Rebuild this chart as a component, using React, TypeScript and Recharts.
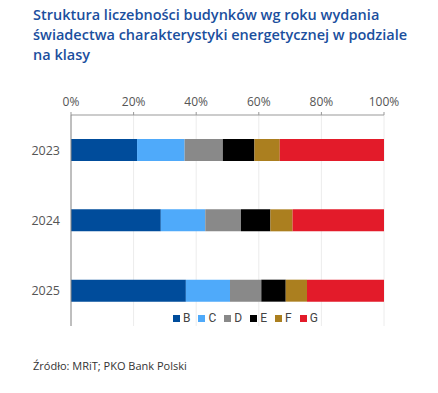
import React from "react";
import { BarChart, Bar, XAxis, YAxis, CartesianGrid } from "recharts";

const years = ["2023", "2024", "2025"];
const classB = [21.1, 28.7, 36.7];
const classC = [15.2, 14.2, 14.1];
const classD = [12.2, 11.4, 10.0];
const classE = [10.1, 9.4, 7.8];
const classF = [8.1, 7.1, 6.8];
const classG = [33.3, 29.2, 24.6];
const xTicks = [0, 20, 40, 60, 80, 100];

const seriesKeys = ["B", "C", "D", "E", "F", "G"];
const seriesColors: Record<string, string> = {
  B: "#004c9b",
  C: "#4faafa",
  D: "#898989",
  E: "#000000",
  F: "#ab7f1f",
  G: "#e31b2a",
};

const data = years.map((y, i) => ({
  year: y,
  B: classB[i],
  C: classC[i],
  D: classD[i],
  E: classE[i],
  F: classF[i],
  G: classG[i],
}));

const font = "'Open Sans', 'Noto Sans', sans-serif";

const LegendContent = () => (
  <div style={{ display: "flex", fontFamily: "Roboto, sans-serif", fontSize: 12, color: "#444" }}>
    {seriesKeys.map((k) => (
      <div key={k} style={{ display: "flex", alignItems: "center", marginRight: 8 }}>
        <span style={{ width: 7, height: 7, background: seriesColors[k], display: "inline-block", marginRight: 3 }} />
        <span>{k}</span>
      </div>
    ))}
  </div>
);

export default function App() {
  return (
    <div style={{ position: "absolute", left: 0, top: 0, width: 438, height: 393, background: "#fff" }}>
      <div
        style={{
          position: "absolute",
          left: 33,
          top: 5,
          width: 400,
          fontFamily: font,
          fontSize: 14.5,
          fontWeight: 600,
          lineHeight: "20px",
          color: "#1b4f9e",
        }}
      >
        Struktura liczebności budynków wg roku wydania
        <br />
        świadectwa charakterystyki energetycznej w podziale
        <br />
        na klasy
      </div>
      <div style={{ position: "absolute", left: 0, top: 0 }}>
        <BarChart
          width={438}
          height={393}
          data={data}
          layout="vertical"
          margin={{ top: 85, right: 54, bottom: 67, left: 0 }}
          barSize={22}
        >
          <CartesianGrid horizontal={false} vertical={true} stroke="#ececec" />
          <XAxis
            type="number"
            orientation="top"
            domain={[0, 100]}
            ticks={xTicks}
            tickFormatter={(v: number) => `${v}%`}
            height={30}
            tickSize={3}
            tickMargin={6}
            axisLine={{ stroke: "#999" }}
            tickLine={{ stroke: "#999" }}
            tick={{ fill: "#555", fontSize: 12, fontFamily: font }}
            interval={0}
          />
          <YAxis
            type="category"
            dataKey="year"
            width={71}
            tickSize={3}
            tickMargin={8}
            axisLine={{ stroke: "#888" }}
            tickLine={false}
            tick={{ fill: "#555", fontSize: 12.5, fontFamily: font }}
          />
          {seriesKeys.map((k) => (
            <Bar key={k} dataKey={k} stackId="a" fill={seriesColors[k]} isAnimationActive={false} />
          ))}
        </BarChart>
      </div>
      <div style={{ position: "absolute", left: 173, top: 311 }}>
        <LegendContent />
      </div>
      <div
        style={{
          position: "absolute",
          left: 33,
          top: 358,
          fontFamily: font,
          fontSize: 11,
          color: "#333",
        }}
      >
        Źródło: MRiT; PKO Bank Polski
      </div>
    </div>
  );
}
